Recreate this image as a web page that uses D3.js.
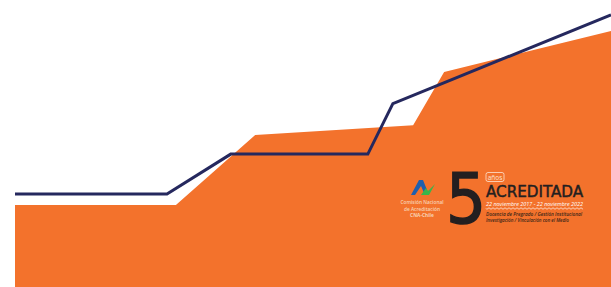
<!DOCTYPE html>
<html>
<head>
<meta charset="utf-8">
<script src="https://cdn.jsdelivr.net/npm/d3@7"></script>
<style>
  html, body { margin: 0; padding: 0; background: #fff; }
  svg { display: block; }
</style>
</head>
<body>
<div id="chart"></div>
<script>
// hodnoty (osa x 0-100, osa y 0-100)
const areaX = [0, 27.0, 40.3, 66.8, 72.0, 100];
const areaY = [28.6, 28.6, 53.0, 56.4, 74.9, 89.2];

const lineX = [0, 25.5, 36.2, 59.2, 63.4, 100];
const lineY = [32.4, 32.4, 46.3, 46.3, 63.9, 94.8];

// texty loga
const cnaLines = ["Comisión Nacional", "de Acreditación", "CNA-Chile"];
const yearsNumber = "5";
const yearsWord = "años";
const badgeTitle = "ACREDITADA";
const badgeDates = "22 noviembre 2017 - 22 noviembre 2022";
const badgeAreas = ["Docencia de Pregrado / Gestión Institucional", "Investigación / Vinculación con el Medio"];

const width = 611;
const height = 287;

const svg = d3.select("#chart")
    .append("svg")
    .attr("width", width)
    .attr("height", height);

const x = d3.scaleLinear().domain([0, 100]).range([15, 611]);
const y = d3.scaleLinear().domain([0, 100]).range([287, 0]);

const areaData = areaX.map((d, i) => ({ x: d, y: areaY[i] }));
const lineData = lineX.map((d, i) => ({ x: d, y: lineY[i] }));

// oranzova plocha
const area = d3.area()
    .x(d => x(d.x))
    .y0(y(0))
    .y1(d => y(d.y));

svg.append("path")
    .datum(areaData)
    .attr("d", area)
    .attr("fill", "#f3722c");

// tmave modra cara
const line = d3.line()
    .x(d => x(d.x))
    .y(d => y(d.y));

svg.append("path")
    .datum(lineData)
    .attr("d", line)
    .attr("fill", "none")
    .attr("stroke", "#25285e")
    .attr("stroke-width", 3)
    .attr("stroke-linejoin", "miter");

// logo CNA
const cna = svg.append("g");
cna.append("path")
    .attr("d", "M411,195 L419,180 L423,180 L429,195 L425,195 L421,186 L415,195 Z")
    .attr("fill", "#1f5fae");
cna.append("path")
    .attr("d", "M421,195 L426,188 L428,191 L435,184 L429,195 Z")
    .attr("fill", "#3bb54a");

cna.selectAll("text")
    .data(cnaLines)
    .enter().append("text")
    .attr("x", 422)
    .attr("y", (d, i) => 204 + i * 6.5)
    .attr("text-anchor", "middle")
    .attr("font-family", "'Open Sans', sans-serif")
    .attr("font-size", 4.8)
    .attr("font-weight", (d, i) => i === 2 ? 700 : 600)
    .attr("fill", "#f8d2b6")
    .text(d => d);

// znacka 5 let
const badge = svg.append("g");
badge.append("text")
    .attr("x", 466)
    .attr("y", 223)
    .attr("text-anchor", "middle")
    .attr("font-family", "'Liberation Sans Narrow', 'DejaVu Sans Condensed', sans-serif")
    .attr("font-size", 70)
    .attr("fill", "#231f20")
    .attr("stroke", "#231f20")
    .attr("stroke-width", 1.4)
    .text(yearsNumber);

badge.append("rect")
    .attr("x", 486)
    .attr("y", 172.5)
    .attr("width", 18)
    .attr("height", 9)
    .attr("rx", 2)
    .attr("fill", "none")
    .attr("stroke", "#fde3d0")
    .attr("stroke-width", 0.8);

badge.append("text")
    .attr("x", 495)
    .attr("y", 179.5)
    .attr("text-anchor", "middle")
    .attr("font-family", "'Open Sans', sans-serif")
    .attr("font-size", 6.5)
    .attr("fill", "#fde3d0")
    .text(yearsWord);

badge.append("text")
    .attr("x", 486)
    .attr("y", 197)
    .attr("textLength", 97)
    .attr("lengthAdjust", "spacingAndGlyphs")
    .attr("font-family", "'Liberation Sans Narrow', 'DejaVu Sans Condensed', sans-serif")
    .attr("font-size", 16)
    .attr("fill", "#231f20")
    .attr("stroke", "#231f20")
    .attr("stroke-width", 0.45)
    .text(badgeTitle);

badge.append("text")
    .attr("x", 486)
    .attr("y", 205.5)
    .attr("textLength", 97)
    .attr("lengthAdjust", "spacingAndGlyphs")
    .attr("font-family", "'Open Sans', sans-serif")
    .attr("font-style", "italic")
    .attr("font-size", 5.6)
    .attr("fill", "#ffffff")
    .text(badgeDates);

// vlnovka pod datem
const wave = d3.range(0, 97.5, 0.5).map(t => [486 + t, 208.5 + Math.sin(t / 4 * 2 * Math.PI) * 0.8]);
badge.append("path")
    .attr("d", d3.line()(wave))
    .attr("fill", "none")
    .attr("stroke", "#ffffff")
    .attr("stroke-width", 0.7);

badge.selectAll("text.area-line")
    .data(badgeAreas)
    .enter().append("text")
    .attr("class", "area-line")
    .attr("x", 486)
    .attr("y", (d, i) => 215.5 + i * 6.5)
    .attr("textLength", (d, i) => i === 0 ? 96 : 83)
    .attr("lengthAdjust", "spacingAndGlyphs")
    .attr("font-family", "'Open Sans', sans-serif")
    .attr("font-style", "italic")
    .attr("font-weight", 600)
    .attr("font-size", 4.8)
    .attr("fill", "#3b2618")
    .text(d => d);
</script>
</body>
</html>
